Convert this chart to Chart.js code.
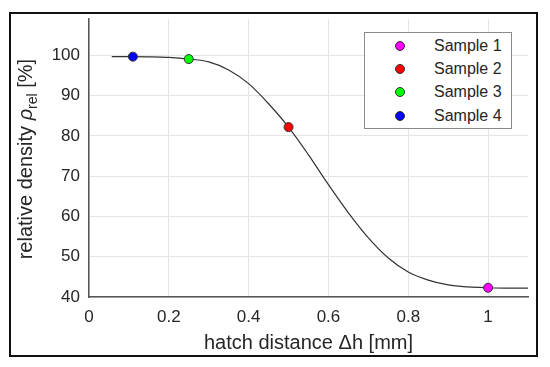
<!DOCTYPE html>
<html>
<head>
<meta charset="utf-8">
<script src="https://cdn.jsdelivr.net/npm/chart.js@4/dist/chart.umd.min.js"></script>
<style>
  body { margin: 0; background: #fff; }
  #wrap { position: relative; width: 550px; height: 367px; }
  #chart { position: absolute; left: 0; top: 0; }
  #frame { position: absolute; left: 9px; top: 12px; width: 525px; height: 341px; border: 2px solid #111; pointer-events: none; }
  #legend { position: absolute; left: 364px; top: 32px; width: 146px; height: 94px; border: 1px solid #8a8a8a; background: #fff;
            font: 16px "Liberation Sans", Arial, sans-serif; color: #262626; padding-top: 1px; box-sizing: content-box; }
  #legend .row { height: 23.3px; display: flex; align-items: center; }
  #legend .dot { width: 8px; height: 8px; border: 1px solid #333; border-radius: 50%; margin-left: 30px; margin-right: 29px; }
</style>
</head>
<body>
<div id="wrap">
  <canvas id="chart" width="550" height="367"></canvas>
  <div id="frame"></div>
  <div id="legend"></div>
</div>
<script>
// fitted curve
const curveX = [0.057, 0.1, 0.15, 0.2, 0.25, 0.3, 0.35, 0.4, 0.45, 0.5, 0.55, 0.6, 0.65, 0.7, 0.75, 0.8, 0.85, 0.9, 0.95, 1.0, 1.05, 1.1];
const curveY = [99.7, 99.7, 99.65, 99.5, 99.1, 98.4, 96.4, 93.0, 88.0, 82.2, 75.3, 67.9, 60.9, 54.7, 49.7, 46.2, 44.2, 43.0, 42.5, 42.3, 42.2, 42.2];

// measured samples
const sampleNames = ['Sample 1', 'Sample 2', 'Sample 3', 'Sample 4'];
const sampleX = [1.0, 0.5, 0.25, 0.11];
const sampleY = [42.3, 82.2, 99.1, 99.7];
const sampleColors = ['#ff00ff', '#ff0000', '#00ff00', '#0000ff'];

const xTicks = [0, 0.2, 0.4, 0.6, 0.8, 1];
const yTicks = [40, 50, 60, 70, 80, 90, 100];

const textColor = '#262626';
const gridColor = '#e4e4e4';
const axisColor = '#555555';

const datasets = [{
  label: 'fit',
  data: curveX.map((x, i) => ({ x: x, y: curveY[i] })),
  showLine: true,
  borderColor: '#333333',
  borderWidth: 1.2,
  pointRadius: 0,
  cubicInterpolationMode: 'monotone',
  fill: false,
  order: 10
}];
sampleNames.forEach((name, i) => {
  datasets.push({
    label: name,
    data: [{ x: sampleX[i], y: sampleY[i] }],
    backgroundColor: sampleColors[i],
    borderColor: '#333333',
    borderWidth: 1,
    pointRadius: 4.5,
    order: 0
  });
});

// y title with subscript, drawn by hand
const yTitlePlugin = {
  id: 'yTitle',
  afterDraw(chart) {
    const ctx = chart.ctx;
    const cy = (chart.chartArea.top + chart.chartArea.bottom) / 2 + 1;
    const parts = [
      { t: 'relative density ', f: '20px "Liberation Sans"', dy: 0 },
      { t: 'ρ', f: 'italic 20px "Liberation Sans"', dy: 0 },
      { t: 'rel', f: '14px "Liberation Sans"', dy: 5 },
      { t: ' [%]', f: '20px "Liberation Sans"', dy: 0 }
    ];
    ctx.save();
    ctx.translate(32, cy);
    ctx.rotate(-Math.PI / 2);
    ctx.fillStyle = textColor;
    ctx.textBaseline = 'alphabetic';
    let total = 0;
    parts.forEach(p => { ctx.font = p.f; p.w = ctx.measureText(p.t).width; total += p.w; });
    let x = -total / 2;
    parts.forEach(p => {
      ctx.font = p.f;
      ctx.fillText(p.t, x, p.dy);
      x += p.w;
    });
    ctx.restore();
  }
};

new Chart(document.getElementById('chart').getContext('2d'), {
  type: 'scatter',
  data: { datasets: datasets },
  options: {
    responsive: false,
    animation: false,
    devicePixelRatio: 1,
    layout: { padding: { top: 18, right: 22, left: 0, bottom: 0 } },
    plugins: { legend: { display: false }, tooltip: { enabled: false } },
    scales: {
      x: {
        type: 'linear',
        min: 0,
        max: 1.1,
        afterBuildTicks: s => { s.ticks = xTicks.map(v => ({ value: v })); },
        afterFit: s => { s.height = 70; },
        ticks: { color: textColor, font: { family: 'Liberation Sans', size: 17 }, padding: 10, maxRotation: 0, autoSkip: false, callback: v => String(v) },
        grid: { color: gridColor, drawTicks: false, lineWidth: 1 },
        border: { color: axisColor, width: 1.5 },
        title: { display: true, text: 'hatch distance Δh [mm]', color: textColor, font: { family: 'Liberation Sans', size: 20 }, padding: { top: 0, bottom: 12 } }
      },
      y: {
        type: 'linear',
        min: 40,
        max: 109,
        afterBuildTicks: s => { s.ticks = yTicks.map(v => ({ value: v })); },
        afterFit: s => { s.width = 89; },
        ticks: { color: textColor, font: { family: 'Liberation Sans', size: 17 }, padding: 9, autoSkip: false },
        grid: { color: gridColor, drawTicks: false, lineWidth: 1 },
        border: { color: axisColor, width: 1.5 }
      }
    }
  },
  plugins: [yTitlePlugin]
});

// legend box
const legend = document.getElementById('legend');
sampleNames.forEach((name, i) => {
  const row = document.createElement('div');
  row.className = 'row';
  const dot = document.createElement('span');
  dot.className = 'dot';
  dot.style.background = sampleColors[i];
  const label = document.createElement('span');
  label.textContent = name;
  row.appendChild(dot);
  row.appendChild(label);
  legend.appendChild(row);
});
</script>
</body>
</html>
